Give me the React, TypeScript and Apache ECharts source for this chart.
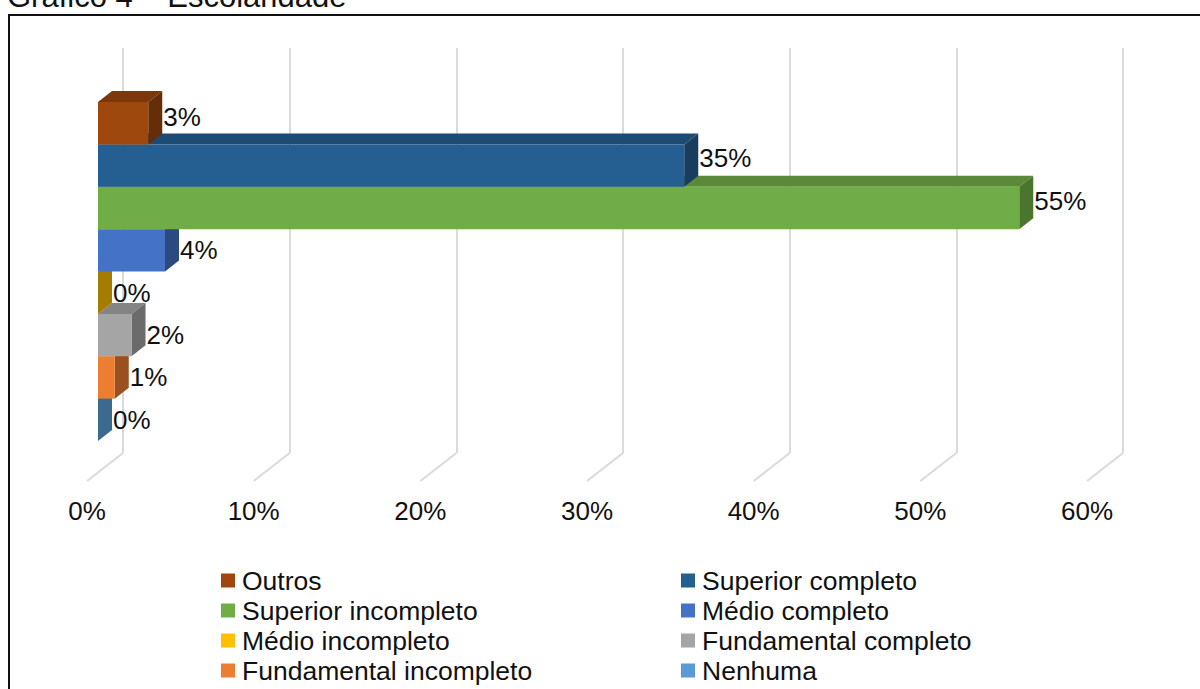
import React, { useEffect, useRef } from "react";
import * as echarts from "echarts";

const categories = [
  "Outros",
  "Superior completo",
  "Superior incompleto",
  "Médio completo",
  "Médio incompleto",
  "Fundamental completo",
  "Fundamental incompleto",
  "Nenhuma",
];
const percentages = [3, 35, 55, 4, 0, 2, 1, 0];
const frontColors = ["#9E480E", "#255E91", "#70AD47", "#4472C4", "#FFC000", "#A5A5A5", "#ED7D31", "#5B9BD5"];
const sideColors = ["#652E09", "#183D5E", "#4B742F", "#2A4A80", "#A67C00", "#6B6B6B", "#99511F", "#3B6A8F"];
const topColors = ["#7C380B", "#1E4B73", "#5A8A39", "#365C9C", "#CC9A00", "#848484", "#BD6427", "#4A7CAA"];
const labelShifts = [-6, -8, -7, 0, 0, 0, 0, 0];
const leftLegend = ["Outros", "Superior incompleto", "Médio incompleto", "Fundamental incompleto"];
const rightLegend = ["Superior completo", "Médio completo", "Fundamental completo", "Nenhuma"];
const axisTicks = [0, 10, 20, 30, 40, 50, 60];

const FONT = '"Liberation Sans", Arial, sans-serif';
const DEPTH_X = 14;
const DEPTH_Y = 11;

// Draws one box: top face, end face and front face, with its value beside the end.
function renderBox(index: number) {
  return (_params: any, api: any) => {
    const value = api.value(0);
    const row = api.value(1);
    const start = api.coord([0, row]);
    const end = api.coord([value, row]);
    const bandHeight = api.size([0, 1])[1];
    const x0 = start[0];
    const x1 = end[0];
    const top = start[1] - bandHeight / 2;
    const bottom = start[1] + bandHeight / 2;
    const children: any[] = [];
    if (value > 0) {
      children.push({
        type: "polygon",
        shape: { points: [[x0, top], [x0 + DEPTH_X, top - DEPTH_Y], [x1 + DEPTH_X, top - DEPTH_Y], [x1, top]] },
        style: { fill: topColors[index] },
      });
    }
    children.push({
      type: "polygon",
      shape: { points: [[x1, top], [x1 + DEPTH_X, top - DEPTH_Y], [x1 + DEPTH_X, bottom - DEPTH_Y], [x1, bottom]] },
      style: { fill: sideColors[index] },
    });
    if (value > 0) {
      children.push({
        type: "rect",
        shape: { x: x0, y: top, width: x1 - x0, height: bottom - top },
        style: { fill: frontColors[index] },
      });
    }
    children.push({
      type: "text",
      x: x1 + DEPTH_X + 1,
      y: (top + bottom) / 2 + labelShifts[index],
      style: {
        text: `${value}%`,
        fill: "#111111",
        font: `26px ${FONT}`,
        textAlign: "left",
        textVerticalAlign: "middle",
      },
    });
    return { type: "group", children };
  };
}

export default function App() {
  const ref = useRef<HTMLDivElement>(null);

  useEffect(() => {
    document.body.style.margin = "0";
    document.body.style.background = "#ffffff";
    const chart = echarts.init(ref.current!, undefined, { renderer: "svg" });

    const hiddenY = (gridIndex: number) => ({
      type: "category" as const,
      gridIndex,
      data: categories,
      inverse: true,
      show: false,
    });

    const legendBase = {
      type: "plain" as const,
      orient: "vertical" as const,
      height: 400,
      itemWidth: 14,
      itemHeight: 14,
      itemGap: 3,
      icon: "rect",
      selectedMode: false,
      textStyle: { fontFamily: FONT, fontSize: 26.5, color: "#111111", padding: [0, 0, 0, 2] },
    };

    chart.setOption({
      animation: false,
      backgroundColor: "#ffffff",
      grid: [
        // Back wall: carries the vertical gridlines.
        { left: 123, top: 48, width: 1000, height: 405 },
        // Front edge of the floor: carries the tick labels.
        { left: 87, top: 48, width: 1000, height: 405 },
        // Plane of the boxes' front faces.
        { left: 98, top: 102, width: 1005, height: 339 },
      ],
      xAxis: [
        {
          type: "value", gridIndex: 0, min: 0, max: 60, interval: 10,
          axisLabel: { show: false }, axisLine: { show: false }, axisTick: { show: false },
          splitLine: { show: true, lineStyle: { color: "#DADADA", width: 2 } },
        },
        {
          type: "value", gridIndex: 1, min: 0, max: 60, interval: 10, position: "bottom",
          axisLine: { show: false }, axisTick: { show: false }, splitLine: { show: false },
          axisLabel: {
            margin: 45,
            fontFamily: FONT, fontSize: 26, color: "#111111",
            formatter: (v: number) => (axisTicks.includes(v) ? `${v}%` : ""),
          },
        },
        { type: "value", gridIndex: 2, min: 0, max: 60, show: false },
      ],
      yAxis: [hiddenY(0), hiddenY(1), hiddenY(2)],
      legend: [
        { ...legendBase, left: 216, top: 562, data: leftLegend },
        { ...legendBase, left: 676, top: 562, data: rightLegend },
      ],
      series: categories.map((name, i) => ({
        type: "custom",
        name,
        xAxisIndex: 2,
        yAxisIndex: 2,
        z: 10 + (categories.length - i),
        clip: false,
        itemStyle: { color: frontColors[i] },
        encode: { x: 0, y: 1 },
        data: [[percentages[i], i]],
        renderItem: renderBox(i),
      })),
      graphic: [
        {
          type: "rect",
          z: 1,
          shape: { x: 9, y: 15, width: 1300, height: 800 },
          style: { fill: "none", stroke: "#111111", lineWidth: 2 },
        },
        // Floor lines running from each gridline's foot towards the viewer.
        ...axisTicks.map((t) => ({
          type: "line",
          z: 1,
          shape: { x1: 123 + t * (1000 / 60), y1: 453, x2: 87 + t * (1000 / 60), y2: 481 },
          style: { stroke: "#DADADA", lineWidth: 2 },
        })),
        {
          type: "text",
          x: 7,
          y: 12,
          style: {
            text: "Gráfico 4 – Escolaridade",
            font: `31px ${FONT}`,
            fill: "#111111",
            textAlign: "left",
            textVerticalAlign: "bottom",
          },
        },
      ],
    });

    return () => chart.dispose();
  }, []);

  return <div ref={ref} style={{ position: "fixed", left: 0, top: 0, width: 1200, height: 689 }} />;
}
